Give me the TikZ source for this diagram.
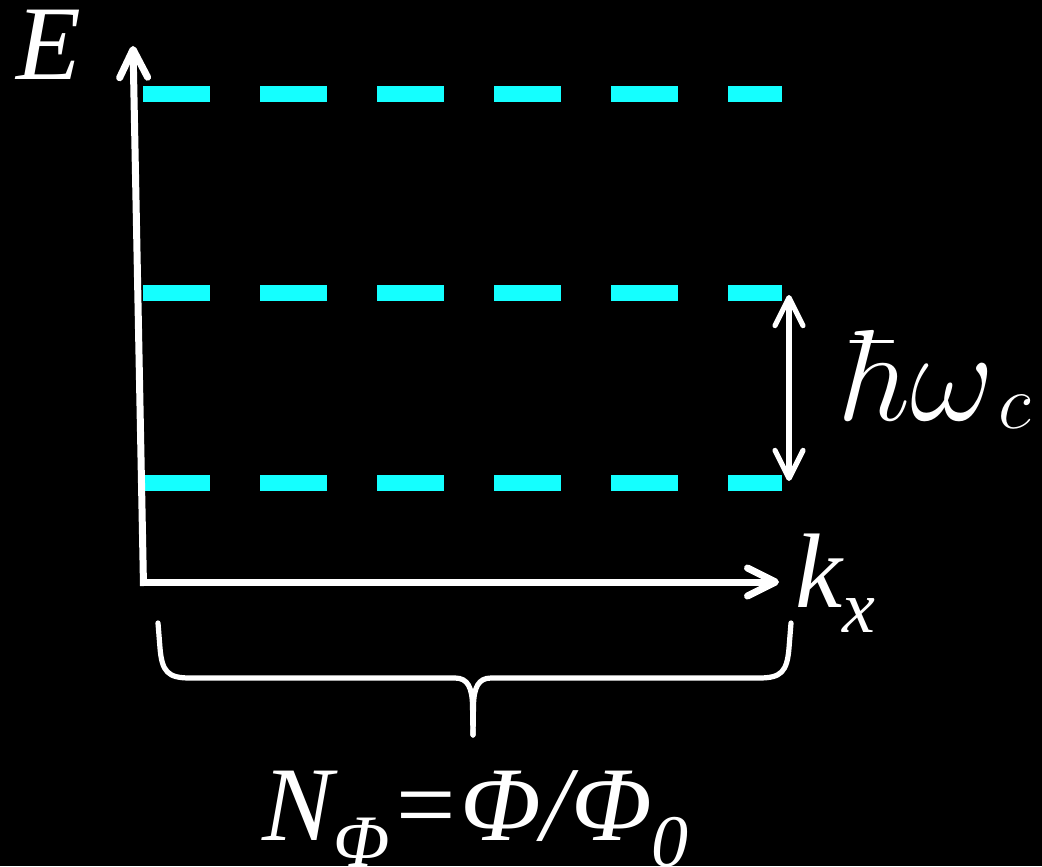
\documentclass[tikz,border=0pt]{standalone}
\usepackage{fontspec}
\usepackage{graphicx}
\usetikzlibrary{arrows.meta}
\newfontfamily\tms{Liberation Serif}
\definecolor{lvl}{RGB}{20,255,255}
\tikzset{
  axis/.style={draw=white, line width=3.5pt, -{Straight Barb[length=14pt,width=14pt,round]}},
  gaparrow/.style={draw=white, line width=2.6pt, {Straight Barb[length=14pt,width=14pt,round]}-{Straight Barb[length=14pt,width=14pt,round]}},
  level/.style={draw=lvl, line width=8pt, line cap=butt, dash pattern=on 33.5pt off 25pt},
  bracel/.style={draw=white, line width=2.6pt, line cap=round},
  tlabel/.style={text=white, inner sep=0pt, font=\tms\itshape\fontsize{53}{60}\selectfont},
}
\begin{document}
\begin{tikzpicture}[x=0.5pt,y=-0.5pt]
\fill[black] (0,0) rectangle (1042,866);
\useasboundingbox (0,0) rectangle (1042,866);
% coordinates
\coordinate (O) at (143.5,582);
\coordinate (Ocorner) at (143.5,586);
\coordinate (Etop) at (133,46);
\coordinate (Kend) at (779,582);
\coordinate (L1a) at (143,94); \coordinate (L1b) at (782,94);
\coordinate (L2a) at (143,293); \coordinate (L2b) at (782,293);
\coordinate (L3a) at (143,483); \coordinate (L3b) at (782,483);
\coordinate (Gtop) at (789,295);
\coordinate (Gbot) at (789,481);
% levels
\draw[level] (L1a) -- (L1b);
\draw[level] (L2a) -- (L2b);
\draw[level] (L3a) -- (L3b);
% axes
\draw[axis] (Ocorner) -- (Etop);
\draw[axis] (O) -- (Kend);
% gap arrow
\draw[gaparrow] (Gtop) -- (Gbot);
% brace
\coordinate (BL) at (158,623);
\coordinate (BR) at (791,623);
\coordinate (BT) at (473,735);
\draw[bracel] (BL) -- (160,648) .. controls (162,672) and (168,678) .. (190,678)
  -- (455,678) .. controls (468,678) and (472,688) .. (472.5,705) -- (BT);
\draw[bracel] (BR) -- (789,648) .. controls (787,672) and (781,678) .. (759,678)
  -- (491,678) .. controls (478,678) and (474,688) .. (473.5,705) -- (BT);
% labels
\node[tlabel, anchor=base west] (E) at (16,80) {E};
\node[tlabel, anchor=base west] (k) at (795,607) {k\raisebox{-12.5pt}{\fontsize{37}{40}\selectfont x}};
\node[text=white, inner sep=0pt, anchor=base west, font=\fontsize{24.88}{30}\selectfont] (hw) at (842,420) {\scalebox{2.61}{$\hbar\omega$}\kern2pt\raisebox{-4pt}{\scalebox{1.55}{$c$}}};
\node[tlabel, anchor=base west] (N) at (262,840) {N\raisebox{-13pt}{\fontsize{37}{40}\selectfont Φ}=Φ/Φ\raisebox{-13pt}{\fontsize{37}{40}\selectfont 0}};
\end{tikzpicture}
\end{document}
